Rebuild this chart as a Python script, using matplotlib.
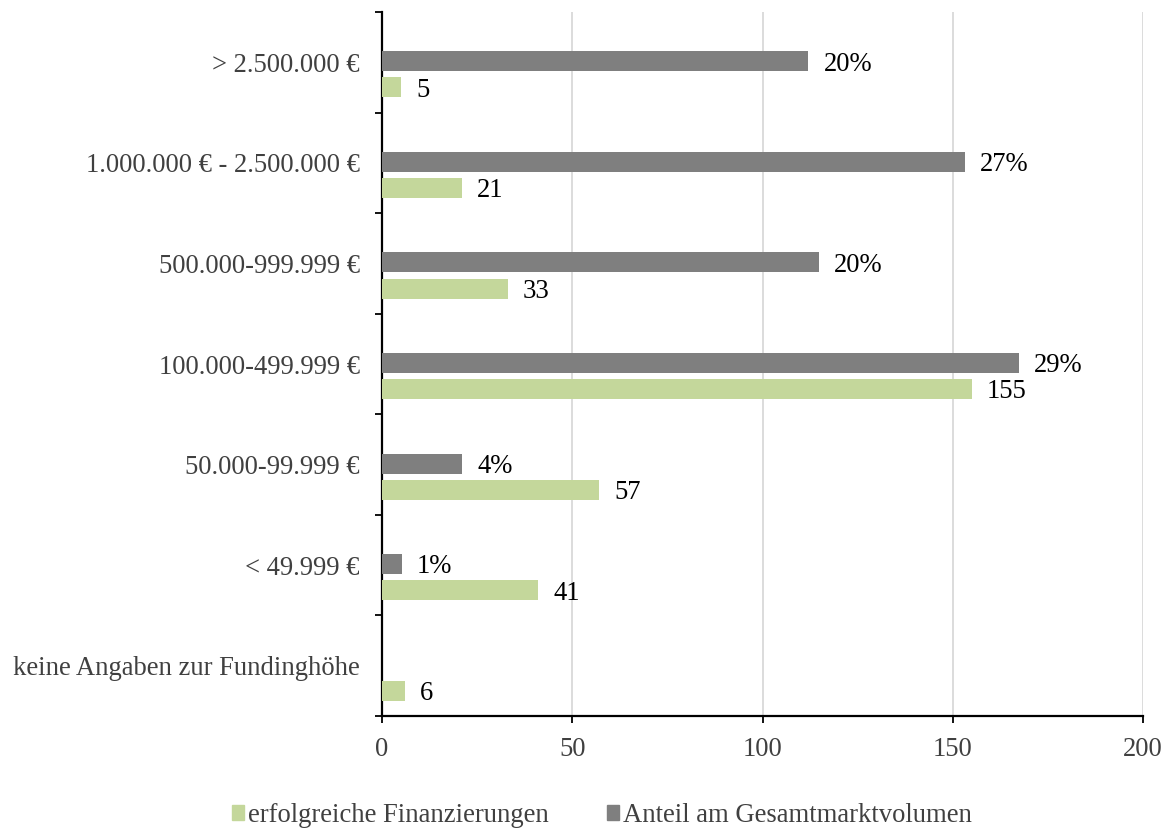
import matplotlib
matplotlib.use("Agg")
import matplotlib.pyplot as plt
from matplotlib.patches import Patch
import numpy as np

categories = ["> 2.500.000 €", "1.000.000 € - 2.500.000 €", "500.000-999.999 €",
              "100.000-499.999 €", "50.000-99.999 €", "< 49.999 €",
              "keine Angaben zur Fundinghöhe"]
# number of successful campaigns per funding range
erfolgreich = [5, 21, 33, 155, 57, 41, 6]
# share of total market volume in percent (none for the last row)
anteil = [19.6, 26.8, 20.1, 29.3, 3.7, 0.9, np.nan]

GREEN = "#C4D79B"
GREY = "#7F7F7F"
FS = 19.2

plt.rcParams["font.family"] = ["Liberation Serif", "DejaVu Serif"]

fig = plt.figure(figsize=(11.73, 8.32), dpi=100)
ax = fig.add_axes([0.3257, 0.1394, 0.6487, 0.8462])
y = np.arange(len(categories))

gb = ax.barh(y + 0.25, erfolgreich, height=0.2, color=GREEN, zorder=3)
for yy, v in zip(y + 0.25, erfolgreich):
    ax.annotate(str(v), (v, yy), xytext=(11, -2), textcoords="offset points",
                ha="left", va="center", fontsize=FS)
ax.set_xlim(0, 200)
ax.set_ylim(len(categories) - 0.5, -0.5)
ax.set_xticks([0, 50, 100, 150, 200])
ax.xaxis.grid(True, color="#D9D9D9", linewidth=1.3, zorder=0)
ax.set_axisbelow(True)
ax.set_yticks(y)
ax.set_yticklabels(categories)
ax.set_yticks(np.arange(-0.5, len(categories)), minor=True)
ax.tick_params(axis="y", which="major", length=0, pad=16, labelsize=FS, labelcolor="#404040")
ax.tick_params(axis="y", which="minor", length=5, width=1.3, direction="out")
ax.tick_params(axis="x", length=5, width=1.3, direction="out", pad=10, labelsize=FS, labelcolor="#404040")
for s in ["top", "right"]:
    ax.spines[s].set_visible(False)
for s in ["left", "bottom"]:
    ax.spines[s].set_linewidth(1.6)

# market share uses its own (hidden) percent scale
ax2 = ax.twiny()
ax2.set_xlim(0, 35)
mask = ~np.isnan(anteil)
sh = np.array(anteil)[mask]
rb = ax2.barh(y[mask] - 0.01, sh, height=0.2, color=GREY, zorder=3)
for yy, v in zip(y[mask] - 0.01, sh):
    ax2.annotate(f"{round(v):.0f}%", (v, yy), xytext=(11, -2), textcoords="offset points",
                 ha="left", va="center", fontsize=FS)
ax2.set_xticks([])
for s in ax2.spines.values():
    s.set_visible(False)

handles = [Patch(color=GREEN, label="erfolgreiche Finanzierungen"),
           Patch(color=GREY, label="Anteil am Gesamtmarktvolumen")]
fig.legend(handles=handles, loc="center", bbox_to_anchor=(0.513, 0.02), ncol=2,
           frameon=False, fontsize=FS, handlelength=0.45, handleheight=0.45,
           handletextpad=0.15, columnspacing=2.2, labelcolor="#404040")

fig.savefig("out.png", dpi=100)
